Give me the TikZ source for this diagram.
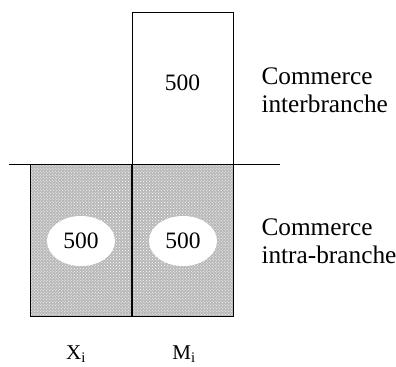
\documentclass[tikz,border=0pt]{standalone}
\usepackage{fontspec}
\setmainfont{Liberation Serif}
\usetikzlibrary{shapes.geometric,patterns}

\tikzset{
  cell/.style={draw, line width=0.8bp, inner sep=0pt, minimum width=101bp, minimum height=152bp},
  shaded/.style={preaction={fill=black!28}, pattern=crosshatch dots, pattern color=white},
  blob/.style={ellipse, fill=white, inner sep=0pt, minimum width=68bp, minimum height=50bp},
  bigtext/.style={font=\fontsize{23.5bp}{26bp}\selectfont},
  sidetext/.style={font=\fontsize{25.3bp}{27.5bp}\selectfont, align=left, anchor=west},
  axislabel/.style={font=\fontsize{21bp}{24bp}\selectfont},
}

\begin{document}
\begin{tikzpicture}[x=1bp,y=-1bp]
    \useasboundingbox (0,0) rectangle (396,367);

    % shaded part: intra-branch trade
    \node[cell, shaded] (xbox) at (81,240) {};
    \node[cell, shaded] (mbox) at (182.5,240) {};
    \node[blob, bigtext] (xval) at (81,241) {500};
    \node[blob, bigtext] (mval) at (183,241) {500};

    % inter-branch trade on top
    \node[cell, bigtext] (inter) at (182.5,88) {};
    \node[bigtext] (interval) at (182.5,83) {500};

    \coordinate (sepwest) at (9,164);
    \coordinate (sepeast) at (280,164);
    \draw[line width=0.8bp] (sepwest) -- (sepeast);

    \node[sidetext] (interlbl) at (258,90) {Commerce\\interbranche};
    \node[sidetext] (intralbl) at (258,241) {Commerce\\intra-branche};

    \node[axislabel] (xlbl) at (76,354) {X\textsubscript{i}};
    \node[axislabel] (mlbl) at (184,354) {M\textsubscript{i}};

  \end{tikzpicture}
\end{document}
